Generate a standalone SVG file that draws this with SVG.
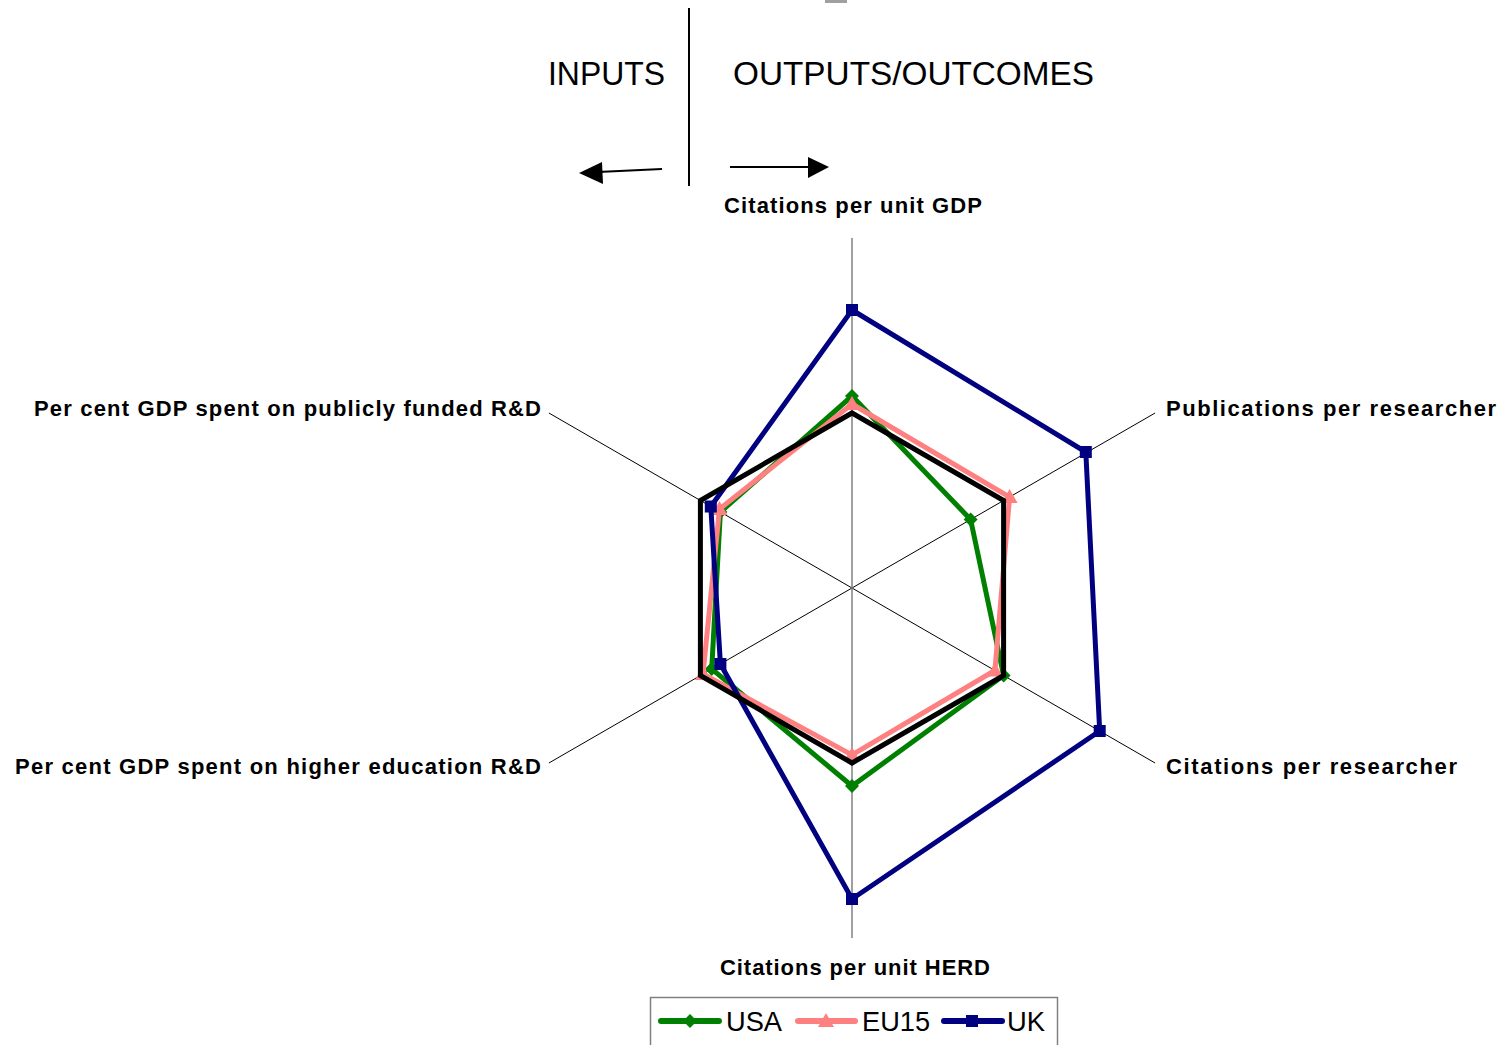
<svg xmlns="http://www.w3.org/2000/svg" xmlns:xlink="http://www.w3.org/1999/xlink" width="1502" height="1045" viewBox="0 0 1502 1045">
<style>
.lbl{font-family:"Liberation Sans",Arial,sans-serif;font-weight:bold;font-size:22px;fill:#000}
.hdr{font-family:"Liberation Sans",Arial,sans-serif;font-size:34px;fill:#000}
.leg{font-family:"Liberation Sans",Arial,sans-serif;font-size:28px;fill:#000}
.ser{fill:none;stroke-width:5;stroke-linejoin:miter}
.ax{stroke:#000;stroke-width:1;fill:none}
</style>
<defs>
<path id="dia" d="M0,-7 L7,0 L0,7 L-7,0Z"/>
<path id="tri" d="M0,-8 L8,6 L-8,6Z"/>
<rect id="sq" x="-6" y="-6" width="12" height="12"/>
</defs>
<rect width="1502" height="1045" fill="#fff"/>
<rect x="825" y="0" width="22" height="3" fill="#a0a0a0"/>
<g id="header">
<line x1="689" y1="8" x2="689" y2="186" stroke="#000" stroke-width="2"/>
<text class="hdr" x="548" y="85" textLength="117" lengthAdjust="spacingAndGlyphs">INPUTS</text>
<text class="hdr" x="733" y="85" textLength="361" lengthAdjust="spacingAndGlyphs">OUTPUTS/OUTCOMES</text>
</g>
<g id="connectors">
<line x1="662" y1="169" x2="598" y2="172" stroke="#000" stroke-width="2"/>
<polygon points="579,173 602,162 603,184" fill="#000"/>
<line x1="730" y1="167" x2="810" y2="167" stroke="#000" stroke-width="2"/>
<polygon points="829,167 808,157 808,178" fill="#000"/>
</g>
<g id="axes">
<line class="ax" x1="548.9" y1="413" x2="1155.1" y2="763"/>
<line class="ax" x1="548.9" y1="763" x2="1155.1" y2="413"/>
<line x1="852" y1="238" x2="852" y2="938" stroke="#808080" stroke-width="1.5"/>
</g>
<g id="series-usa">
<polygon class="ser" stroke="#008000" points="852,396 970.6,519.5 1003.6,675.5 852,786 711.7,669 720.4,512"/>
<g fill="#008000">
<use xlink:href="#dia" x="852" y="396"/><use xlink:href="#dia" x="970.6" y="519.5"/><use xlink:href="#dia" x="1003.6" y="675.5"/><use xlink:href="#dia" x="852" y="786"/><use xlink:href="#dia" x="711.7" y="669"/><use xlink:href="#dia" x="720.4" y="512"/>
</g>
</g>
<g id="series-eu15">
<polygon class="ser" stroke="#ff8080" stroke-width="6" points="852,404 1009.6,497 994.9,670.5 852,755 703,674 719.5,509"/>
<g fill="#ff8080">
<use xlink:href="#tri" x="852" y="404"/><use xlink:href="#tri" x="1009.6" y="497"/><use xlink:href="#tri" x="994.9" y="670.5"/><use xlink:href="#tri" x="852" y="755"/><use xlink:href="#tri" x="703" y="674"/><use xlink:href="#tri" x="719.5" y="509"/>
</g>
</g>
<g id="series-uk">
<polygon class="ser" stroke="#000080" points="852,310 1085.8,452 1099.7,731 852,899 720.4,664 710.8,506.5"/>
<g fill="#000080">
<use xlink:href="#sq" x="852" y="310"/><use xlink:href="#sq" x="1085.8" y="452"/><use xlink:href="#sq" x="1099.7" y="731"/><use xlink:href="#sq" x="852" y="899"/><use xlink:href="#sq" x="720.4" y="664"/><use xlink:href="#sq" x="710.8" y="506.5"/>
</g>
</g>
<g id="series-reference">
<polygon class="ser" stroke="#000" stroke-width="6" points="852,413 1003.6,500.5 1003.6,675.5 852,763 700.4,675.5 700.4,500.5"/>
</g>
<g id="labels">
<text class="lbl" x="724" y="213" textLength="258" lengthAdjust="spacing">Citations per unit GDP</text>
<text class="lbl" x="1166" y="416" textLength="330" lengthAdjust="spacing">Publications per researcher</text>
<text class="lbl" x="1166" y="774" textLength="291" lengthAdjust="spacing">Citations per researcher</text>
<text class="lbl" x="720" y="975" textLength="270" lengthAdjust="spacing">Citations per unit HERD</text>
<text class="lbl" x="34" y="416" textLength="507" lengthAdjust="spacing">Per cent GDP spent on publicly funded R&amp;D</text>
<text class="lbl" x="15" y="774" textLength="526" lengthAdjust="spacing">Per cent GDP spent on higher education R&amp;D</text>
</g>
<g id="legend">
<rect x="650.5" y="997.5" width="407" height="60" fill="#fff" stroke="#808080" stroke-width="1.5"/>
<line x1="661" y1="1021" x2="719" y2="1021" stroke="#008000" stroke-width="6" stroke-linecap="round"/>
<use xlink:href="#dia" x="690" y="1021" fill="#008000"/>
<text class="leg" x="726" y="1031" textLength="56" lengthAdjust="spacingAndGlyphs">USA</text>
<line x1="798" y1="1021" x2="855" y2="1021" stroke="#ff8080" stroke-width="6" stroke-linecap="round"/>
<use xlink:href="#tri" x="826" y="1021" fill="#ff8080"/>
<text class="leg" x="862" y="1031" textLength="68" lengthAdjust="spacingAndGlyphs">EU15</text>
<line x1="944" y1="1021" x2="1002" y2="1021" stroke="#000080" stroke-width="6" stroke-linecap="round"/>
<use xlink:href="#sq" x="972" y="1021" fill="#000080"/>
<text class="leg" x="1007" y="1031" textLength="38" lengthAdjust="spacingAndGlyphs">UK</text>
</g>
</svg>
